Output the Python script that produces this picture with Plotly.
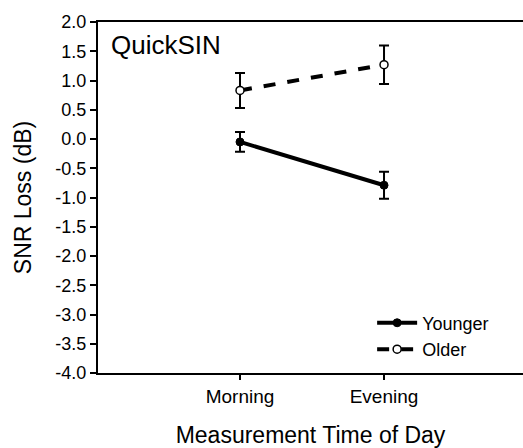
import plotly.graph_objects as go

categories = ["Morning", "Evening"]
cat_pos = [1, 2]
younger_mean = [-0.05, -0.79]
younger_err = [0.17, 0.23]
older_mean = [0.83, 1.27]
older_err = [0.30, 0.33]
y_ticks = [-4.0, -3.5, -3.0, -2.5, -2.0, -1.5, -1.0, -0.5, 0.0, 0.5, 1.0, 1.5, 2.0]
y_tick_text = [f"{v:.1f}" for v in y_ticks]

FONT = "Liberation Sans, Arial, sans-serif"

fig = go.Figure()
fig.add_trace(go.Scatter(
    x=cat_pos, y=younger_mean, name="Younger", mode="lines+markers",
    line=dict(color="black", width=4, dash="solid"),
    marker=dict(symbol="circle", size=8, color="black", line=dict(color="black", width=1)),
    error_y=dict(type="data", array=younger_err, visible=True, color="black", thickness=2, width=5),
))
fig.add_trace(go.Scatter(
    x=cat_pos, y=older_mean, name="Older", mode="lines+markers",
    line=dict(color="black", width=4, dash="dash"),
    marker=dict(symbol="circle", size=8, color="white", line=dict(color="black", width=1.5)),
    error_y=dict(type="data", array=older_err, visible=True, color="black", thickness=2, width=5),
))

fig.add_annotation(
    text="QuickSIN", xref="paper", yref="paper", x=0.026, y=0.935,
    xanchor="left", yanchor="middle", showarrow=False,
    font=dict(family=FONT, size=26, color="black"),
)

fig.update_layout(
    width=523, height=448,
    margin=dict(l=98, r=0, t=22, b=75),
    paper_bgcolor="white", plot_bgcolor="white",
    font=dict(family=FONT, color="black"),
    showlegend=True,
    legend=dict(
        x=0.645, y=0.195, xanchor="left", yanchor="top",
        bgcolor="rgba(0,0,0,0)", font=dict(family=FONT, size=18, color="black"),
        tracegroupgap=0, itemwidth=40,
    ),
    xaxis=dict(
        range=[0.014, 2.965], tickvals=cat_pos, ticktext=categories,
        showgrid=False, zeroline=False,
        showline=True, linecolor="black", linewidth=2, mirror=True,
        ticks="outside", ticklen=5, tickwidth=2, tickcolor="black",
        tickfont=dict(family=FONT, size=19, color="black"),
        title=dict(text="Measurement Time of Day", font=dict(family=FONT, size=23, color="black"), standoff=21),
    ),
    yaxis=dict(
        range=[-4.0, 2.0], tickvals=y_ticks, ticktext=y_tick_text,
        showgrid=False, zeroline=False,
        showline=True, linecolor="black", linewidth=2,
        ticks="outside", ticklen=6, tickwidth=2, tickcolor="black",
        tickfont=dict(family=FONT, size=18, color="black"),
        title=dict(text="SNR Loss (dB)", font=dict(family=FONT, size=23, color="black"), standoff=17),
    ),
)

fig.write_html("out.html")
